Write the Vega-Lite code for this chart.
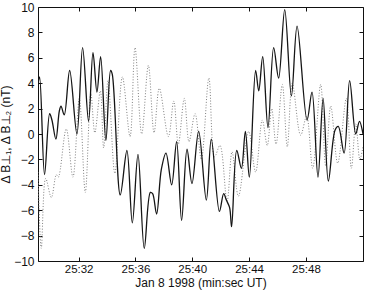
{
  "$schema": "https://vega.github.io/schema/vega-lite/v6.json",
  "width": 325,
  "height": 254,
  "autosize": "none",
  "padding": {"left": 38, "top": 7, "right": 4, "bottom": 29},
  "background": "white",
  "config": {
    "font": "Liberation Sans",
    "view": {"stroke": "#111", "strokeWidth": 1},
    "axis": {
      "domain": false,
      "grid": false,
      "ticks": true,
      "tickColor": "#111",
      "tickSize": -4,
      "labelFont": "Liberation Sans",
      "labelFontSize": 12,
      "labelColor": "#111",
      "titleFont": "Liberation Sans",
      "titleFontSize": 12,
      "titleFontWeight": "normal",
      "titleColor": "#111"
    }
  },
  "datasets": {
    "perp2": [
      {"t": 29.14, "v": -3.0},
      {"t": 29.37, "v": -9.0},
      {"t": 29.68, "v": -3.5},
      {"t": 30.08, "v": -5.0},
      {"t": 30.43, "v": -3.2},
      {"t": 30.57, "v": -3.4},
      {"t": 31.13, "v": 0.4},
      {"t": 31.60, "v": -3.4},
      {"t": 32.05, "v": 2.8},
      {"t": 32.47, "v": -4.6},
      {"t": 32.86, "v": 3.2},
      {"t": 33.14, "v": 0.1},
      {"t": 33.53, "v": 3.4},
      {"t": 33.76, "v": -1.1},
      {"t": 34.07, "v": 4.2},
      {"t": 34.55, "v": -3.1},
      {"t": 35.08, "v": 4.5},
      {"t": 35.62, "v": -0.2},
      {"t": 35.97, "v": 6.8},
      {"t": 36.44, "v": 0.0},
      {"t": 36.91, "v": 5.4},
      {"t": 37.31, "v": 0.1},
      {"t": 37.68, "v": 3.6},
      {"t": 38.32, "v": -0.2},
      {"t": 38.70, "v": 2.6},
      {"t": 39.02, "v": -0.8},
      {"t": 39.44, "v": 2.8},
      {"t": 39.77, "v": -0.6},
      {"t": 40.20, "v": 1.6},
      {"t": 40.64, "v": -2.0},
      {"t": 41.17, "v": 4.4},
      {"t": 41.57, "v": -1.8},
      {"t": 41.95, "v": -0.9},
      {"t": 42.45, "v": -5.3},
      {"t": 42.80, "v": -1.4},
      {"t": 43.25, "v": -4.9},
      {"t": 43.97, "v": 0.2},
      {"t": 44.46, "v": -3.0},
      {"t": 44.93, "v": 1.1},
      {"t": 45.28, "v": -0.9},
      {"t": 45.59, "v": 2.0},
      {"t": 45.90, "v": -0.8},
      {"t": 46.34, "v": 3.9},
      {"t": 46.69, "v": -1.0},
      {"t": 47.04, "v": 4.0},
      {"t": 47.63, "v": -0.1},
      {"t": 48.05, "v": 1.4},
      {"t": 48.48, "v": -2.7},
      {"t": 49.04, "v": 3.9},
      {"t": 49.39, "v": -2.5},
      {"t": 49.75, "v": 2.2},
      {"t": 50.24, "v": -2.3},
      {"t": 50.85, "v": 2.8},
      {"t": 51.20, "v": -2.7},
      {"t": 51.51, "v": 0.8},
      {"t": 51.80, "v": -2.0},
      {"t": 52.02, "v": -1.0}
    ],
    "perp1": [
      {"t": 29.14, "v": 4.0},
      {"t": 29.25, "v": 4.5},
      {"t": 29.60, "v": -3.2},
      {"t": 29.96, "v": 1.6},
      {"t": 30.12, "v": 1.1},
      {"t": 30.40, "v": -0.4},
      {"t": 30.64, "v": 1.8},
      {"t": 30.76, "v": 2.2},
      {"t": 30.99, "v": 1.5},
      {"t": 31.37, "v": 5.0},
      {"t": 31.88, "v": 0.0},
      {"t": 32.28, "v": 6.8},
      {"t": 32.70, "v": 1.0},
      {"t": 33.01, "v": 6.4},
      {"t": 33.29, "v": 3.3},
      {"t": 33.55, "v": 6.1},
      {"t": 33.92, "v": -0.5},
      {"t": 34.25, "v": 5.0},
      {"t": 34.37, "v": 4.7},
      {"t": 34.93, "v": -4.8},
      {"t": 35.40, "v": -1.3},
      {"t": 35.78, "v": -7.0},
      {"t": 36.18, "v": -1.6},
      {"t": 36.62, "v": -9.0},
      {"t": 37.05, "v": -4.6},
      {"t": 37.21, "v": -4.7},
      {"t": 37.49, "v": -6.3},
      {"t": 37.82, "v": -2.8},
      {"t": 38.15, "v": -1.5},
      {"t": 38.55, "v": -4.0},
      {"t": 38.90, "v": -0.6},
      {"t": 39.25, "v": -6.8},
      {"t": 39.63, "v": -1.2},
      {"t": 39.98, "v": -3.9},
      {"t": 40.45, "v": 0.2},
      {"t": 40.99, "v": -5.2},
      {"t": 41.34, "v": -0.4},
      {"t": 41.91, "v": -6.1},
      {"t": 42.21, "v": -4.7},
      {"t": 42.40, "v": -5.2},
      {"t": 42.63, "v": -5.8},
      {"t": 42.77, "v": -7.3},
      {"t": 43.13, "v": -1.3},
      {"t": 43.46, "v": -2.7},
      {"t": 43.74, "v": 0.2},
      {"t": 44.02, "v": -3.4},
      {"t": 44.46, "v": 5.0},
      {"t": 44.68, "v": 3.4},
      {"t": 44.96, "v": 6.1},
      {"t": 45.33, "v": 0.5},
      {"t": 45.73, "v": 6.8},
      {"t": 46.08, "v": 4.4},
      {"t": 46.51, "v": 9.8},
      {"t": 46.98, "v": 3.0},
      {"t": 47.38, "v": 8.5},
      {"t": 48.08, "v": 1.1},
      {"t": 48.43, "v": 3.3},
      {"t": 48.85, "v": -3.4},
      {"t": 49.21, "v": 2.8},
      {"t": 49.58, "v": -3.7},
      {"t": 50.05, "v": 0.3},
      {"t": 50.28, "v": 0.6},
      {"t": 50.69, "v": -1.5},
      {"t": 51.08, "v": 4.2},
      {"t": 51.51, "v": 0.0},
      {"t": 51.77, "v": 1.0},
      {"t": 52.02, "v": 0.0}
    ]
  },
  "layer": [
    {
      "data": {"name": "perp2"},
      "mark": {"type": "line", "interpolate": "catmull-rom", "color": "#808080", "strokeWidth": 1, "strokeDash": [1, 1.8], "clip": true},
      "encoding": {
        "x": {
          "field": "t", "type": "quantitative",
          "scale": {"domain": [29.14, 52.02], "nice": false, "zero": false},
          "axis": {"orient": "bottom", "values": [32, 36, 40, 44, 48], "labelExpr": "'25:' + datum.value", "labelPadding": 6, "labelFontSize": 11.5, "title": "Jan 8 1998 (min:sec UT)", "titlePadding": 3}
        },
        "y": {
          "field": "v", "type": "quantitative",
          "scale": {"domain": [-10, 10], "nice": false, "zero": false},
          "axis": {"orient": "left", "values": [-10, -8, -6, -4, -2, 0, 2, 4, 6, 8, 10], "labelPadding": 8, "title": "Δ B⊥₁, Δ B⊥₂ (nT)", "titlePadding": 1}
        }
      }
    },
    {
      "data": {"name": "perp1"},
      "mark": {"type": "line", "interpolate": "catmull-rom", "color": "#151515", "strokeWidth": 1.3, "clip": true},
      "encoding": {
        "x": {
          "field": "t", "type": "quantitative",
          "axis": {"orient": "top", "values": [32, 36, 40, 44, 48], "labels": false, "title": null}
        },
        "y": {
          "field": "v", "type": "quantitative",
          "axis": {"orient": "right", "values": [-10, -8, -6, -4, -2, 0, 2, 4, 6, 8, 10], "labels": false, "title": null}
        }
      }
    }
  ],
  "resolve": {"axis": {"x": "independent", "y": "independent"}}
}
